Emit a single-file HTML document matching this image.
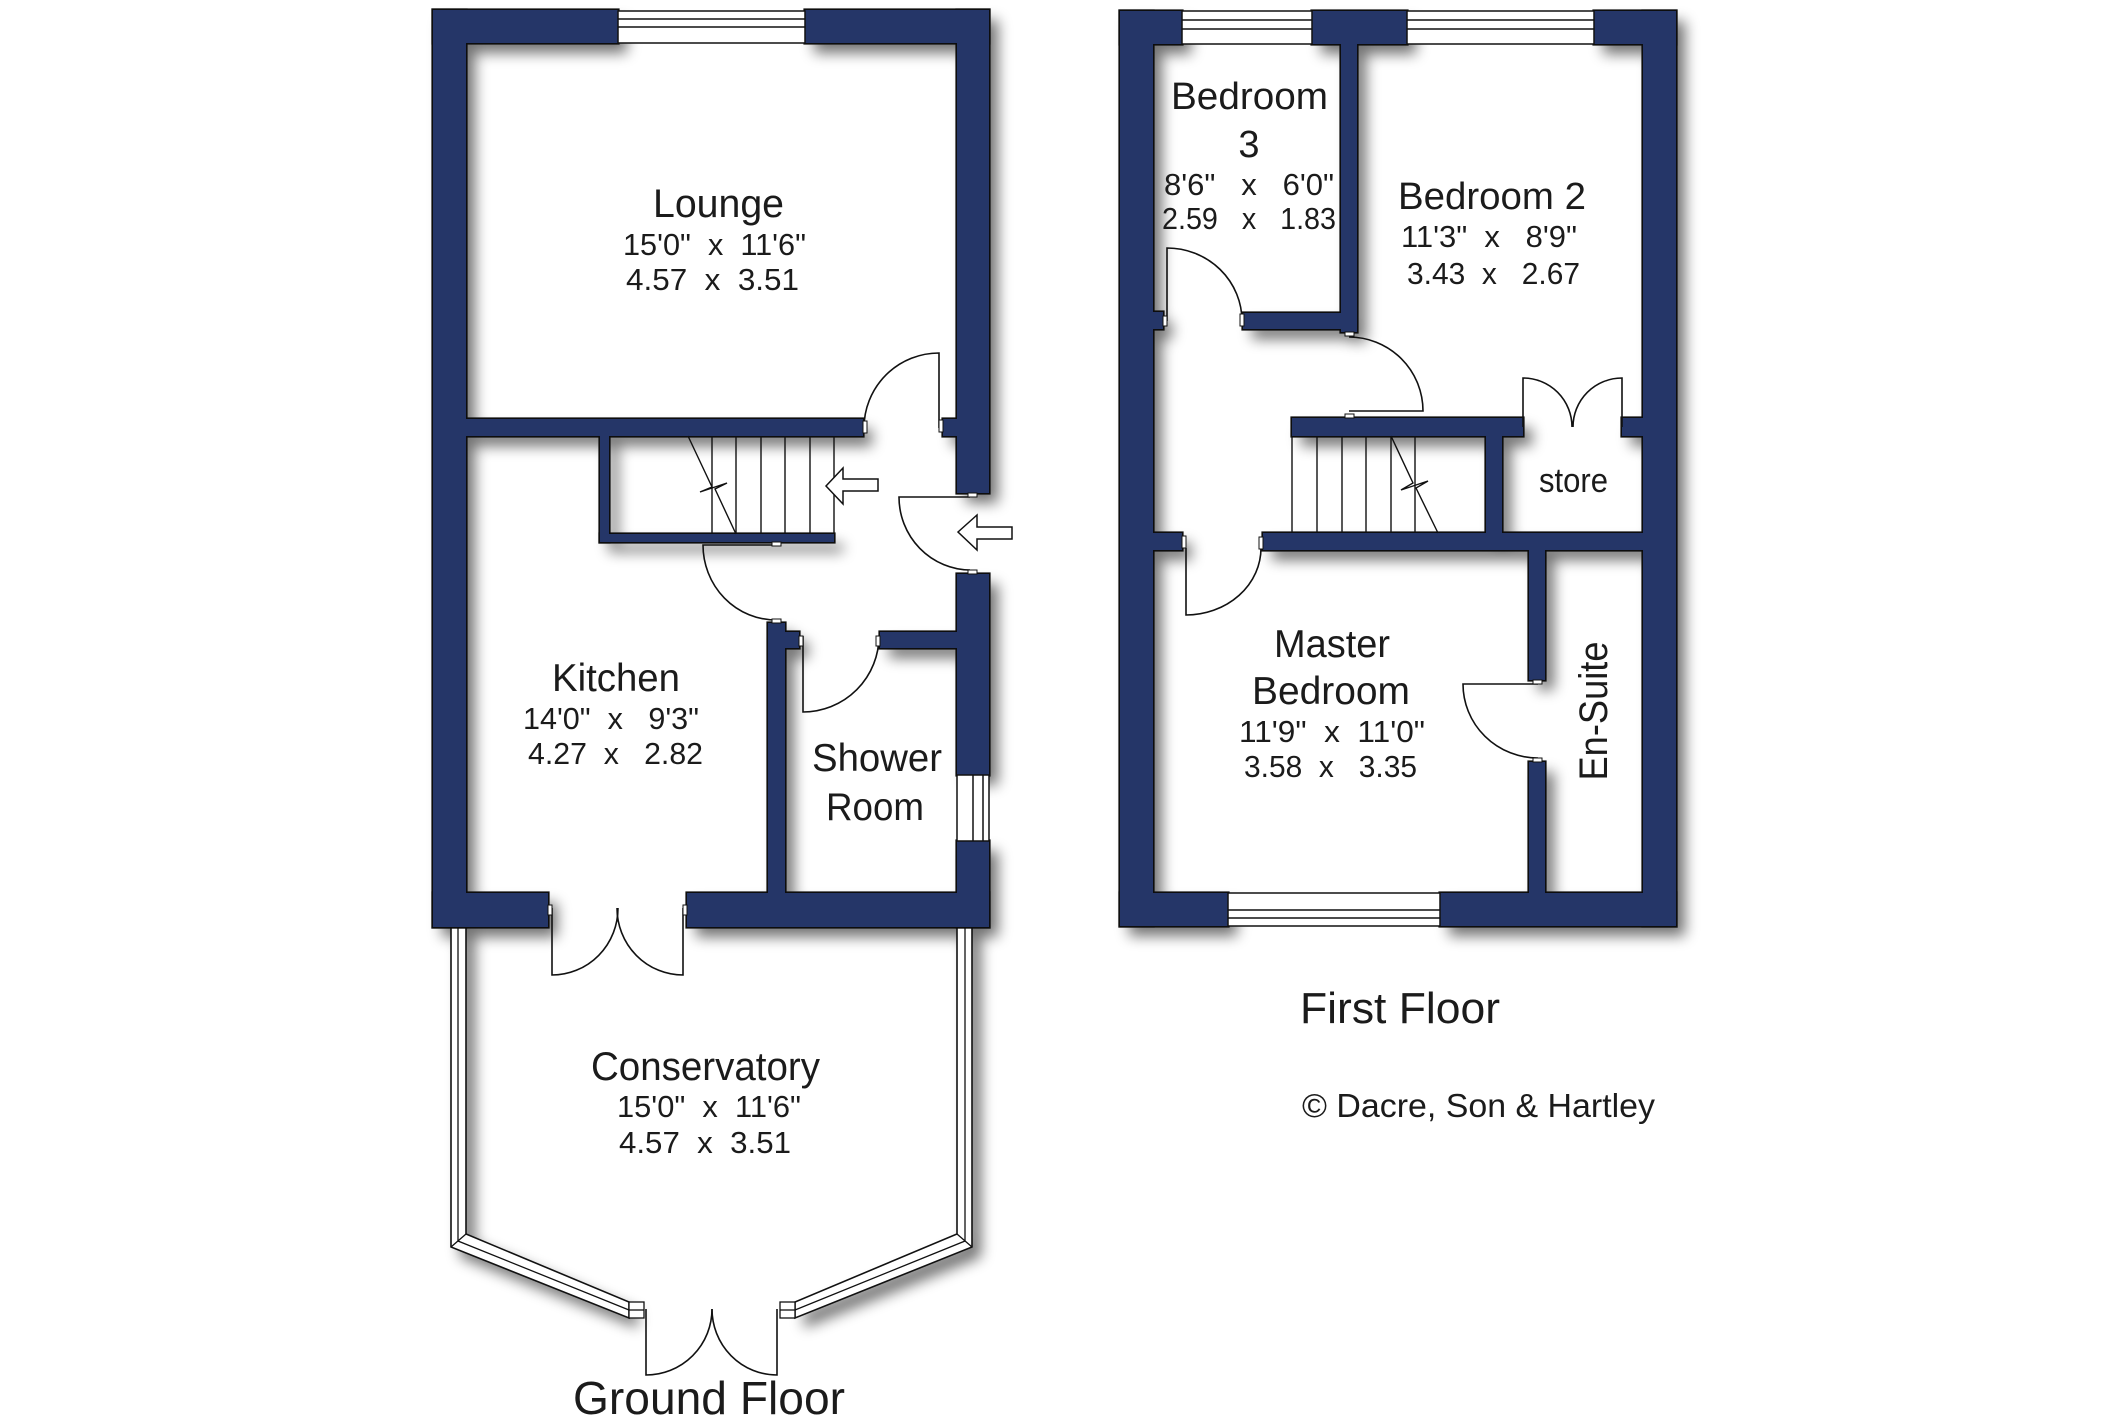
<!DOCTYPE html>
<html><head><meta charset="utf-8"><style>
html,body{margin:0;padding:0;background:#fff;}
svg{display:block;}
text{font-family:"Liberation Sans",sans-serif;fill:#1b1b1b;white-space:pre;}
</style></head><body>
<svg width="2126" height="1417" viewBox="0 0 2126 1417" xmlns="http://www.w3.org/2000/svg">
<defs>
<filter id="sh" x="-20%" y="-20%" width="140%" height="140%">
<feGaussianBlur stdDeviation="7"/>
</filter>
<g id="walls">
<rect x="433" y="10" width="185" height="33"/>
<rect x="805" y="10" width="184" height="33"/>
<rect x="433" y="10" width="33" height="917"/>
<rect x="957" y="10" width="32" height="483"/>
<rect x="957" y="574" width="32" height="201"/>
<rect x="957" y="841" width="32" height="86"/>
<rect x="466" y="419" width="397" height="17"/>
<rect x="943" y="419" width="14" height="17"/>
<rect x="600" y="436" width="9" height="106"/>
<rect x="600" y="534" width="234" height="8"/>
<rect x="768" y="623" width="17" height="270"/>
<rect x="785" y="632" width="14" height="16"/>
<rect x="880" y="632" width="77" height="16"/>
<rect x="433" y="893" width="115" height="34"/>
<rect x="687" y="893" width="302" height="34"/>
<rect x="1120" y="11" width="62" height="33"/>
<rect x="1312" y="11" width="95" height="33"/>
<rect x="1594" y="11" width="82" height="33"/>
<rect x="1120" y="11" width="33" height="915"/>
<rect x="1643" y="11" width="33" height="915"/>
<rect x="1120" y="893" width="108" height="33"/>
<rect x="1440" y="893" width="236" height="33"/>
<rect x="1341" y="44" width="16" height="288"/>
<rect x="1243" y="313" width="98" height="16"/>
<rect x="1153" y="312" width="10" height="17"/>
<rect x="1292" y="418" width="231" height="18"/>
<rect x="1622" y="418" width="21" height="18"/>
<rect x="1486" y="436" width="16" height="97"/>
<rect x="1263" y="533" width="380" height="17"/>
<rect x="1153" y="533" width="29" height="17"/>
<rect x="1529" y="550" width="16" height="130"/>
<rect x="1529" y="762" width="16" height="131"/>
</g>
<g id="cons">
<polygon points="451,927 466,927 466,1234 629,1302 629,1318 451,1247"/>
<polygon points="957,927 972,927 972,1247 795,1318 795,1302 957,1234"/>
</g>
</defs>

<!-- shadows -->
<g transform="translate(9,10)" filter="url(#sh)" fill="#000" opacity="0.55">
<use href="#walls"/>
<use href="#cons"/>
</g>

<!-- conservatory frame -->
<g fill="#fff" stroke="#111" stroke-width="1.6">
<use href="#cons"/>
</g>
<g fill="none" stroke="#111" stroke-width="1.3">
<polyline points="458,927 458,1241 629,1310"/>
<polyline points="965,927 965,1241 795,1310"/>
<line x1="451" y1="1247" x2="466" y2="1234"/>
<line x1="972" y1="1247" x2="957" y2="1234"/>
<rect x="629" y="1302" width="15" height="16" fill="#fff"/>
<line x1="629" y1="1310" x2="644" y2="1310"/>
<rect x="780" y="1302" width="15" height="16" fill="#fff"/>
<line x1="780" y1="1310" x2="795" y2="1310"/>
</g>

<!-- walls: outline pass then fill pass -->
<g fill="#253668" stroke="#0d0d0d" stroke-width="3.2"><use href="#walls"/></g>
<g fill="#253668"><use href="#walls"/></g>

<!-- windows -->
<g fill="#fff" stroke="#111" stroke-width="1.5">
<rect x="618" y="11" width="187" height="32"/>
<line x1="618" y1="19" x2="805" y2="19"/><line x1="618" y1="27" x2="805" y2="27"/>
<rect x="957" y="775" width="32" height="66"/>
<line x1="973" y1="775" x2="973" y2="841"/><line x1="983" y1="775" x2="983" y2="841"/>
<rect x="1182" y="11" width="130" height="33"/>
<line x1="1182" y1="20" x2="1312" y2="20"/><line x1="1182" y1="29" x2="1312" y2="29"/>
<rect x="1407" y="11" width="187" height="33"/>
<line x1="1407" y1="20" x2="1594" y2="20"/><line x1="1407" y1="29" x2="1594" y2="29"/>
<rect x="1228" y="893" width="212" height="33"/>
<line x1="1228" y1="910" x2="1440" y2="910"/><line x1="1228" y1="918" x2="1440" y2="918"/>
</g>

<!-- stairs -->
<g fill="none" stroke="#111" stroke-width="1.4">
<line x1="712" y1="436" x2="712" y2="534"/><line x1="736" y1="436" x2="736" y2="534"/>
<line x1="761" y1="436" x2="761" y2="534"/><line x1="785" y1="436" x2="785" y2="534"/>
<line x1="810" y1="436" x2="810" y2="534"/><line x1="834" y1="436" x2="834" y2="534"/>
<polyline points="688,436 712,487 700,492 727,483 715,489 736,534"/>
<line x1="1292" y1="436" x2="1292" y2="533"/><line x1="1317" y1="436" x2="1317" y2="533"/>
<line x1="1342" y1="436" x2="1342" y2="533"/><line x1="1366" y1="436" x2="1366" y2="533"/>
<line x1="1391" y1="436" x2="1391" y2="533"/><line x1="1415" y1="436" x2="1415" y2="533"/>
<polyline points="1391,436 1413,483 1401,490 1428,481 1416,488 1438,533"/>
</g>

<!-- arrows -->
<g fill="#fff" stroke="#111" stroke-width="1.5">
<polygon points="826,486 843,468 843,479 878,479 878,491 843,491 843,504"/>
<polygon points="958,532 977,515 977,527 1012,527 1012,539 977,539 977,550"/>
</g>

<!-- doors -->
<g fill="none" stroke="#111" stroke-width="1.6">
<path d="M939,428 L939,353 A75,75 0 0 0 864,428"/>
<path d="M970,497 L899,497 A72,73 0 0 0 970,570"/>
<path d="M776,545 L703,545 A73,75 0 0 0 776,620"/>
<path d="M803,636 L803,712 A76,76 0 0 0 879,636"/>
<path d="M552,908 L552,975 A66,67 0 0 0 618,908"/>
<path d="M683,908 L683,975 A66,67 0 0 1 617,908"/>
<path d="M646,1309 L646,1375 A66,66 0 0 0 712,1309"/>
<path d="M777,1309 L777,1375 A65,66 0 0 1 712,1309"/>
<path d="M1167,321 L1167,248 A75,73 0 0 1 1242,321"/>
<path d="M1349,411 L1423,411 A74,74 0 0 0 1349,337"/>
<path d="M1523,427 L1523,378 A49,49 0 0 1 1572,427"/>
<path d="M1622,427 L1622,378 A49,49 0 0 0 1573,427"/>
<path d="M1186,548 L1186,615 A75,67 0 0 0 1261,548"/>
<path d="M1538,684 L1463,684 A75,74 0 0 0 1538,758"/>
</g>

<!-- hinges -->
<g fill="#fff" stroke="#111" stroke-width="1">
<rect x="939" y="420" width="4" height="12"/>
<rect x="863" y="421" width="4" height="12"/>
<rect x="968" y="493" width="9" height="4"/>
<rect x="968" y="570" width="9" height="4"/>
<rect x="772" y="542" width="9" height="4"/>
<rect x="772" y="619" width="9" height="4"/>
<rect x="799" y="636" width="4" height="10"/>
<rect x="876" y="636" width="4" height="10"/>
<rect x="548" y="905" width="4" height="10"/>
<rect x="683" y="905" width="4" height="10"/>
<rect x="1163" y="316" width="4" height="10"/>
<rect x="1240" y="314" width="4" height="12"/>
<rect x="1345" y="332" width="9" height="4"/>
<rect x="1345" y="414" width="9" height="4"/>
<rect x="1182" y="536" width="4" height="12"/>
<rect x="1259" y="537" width="4" height="12"/>
<rect x="1533" y="680" width="9" height="4"/>
<rect x="1533" y="758" width="9" height="4"/>
</g>

<!-- text ground floor -->
<text x="653" y="217" font-size="40" textLength="131" lengthAdjust="spacingAndGlyphs">Lounge</text>
<text x="623" y="255" font-size="31" textLength="183" lengthAdjust="spacingAndGlyphs">15'0"  x  11'6"</text>
<text x="626" y="290" font-size="31" textLength="173" lengthAdjust="spacingAndGlyphs">4.57  x  3.51</text>
<text x="552" y="691" font-size="39" textLength="128" lengthAdjust="spacingAndGlyphs">Kitchen</text>
<text x="523" y="729" font-size="31" textLength="176" lengthAdjust="spacingAndGlyphs">14'0"  x   9'3"</text>
<text x="528" y="764" font-size="31" textLength="175" lengthAdjust="spacingAndGlyphs">4.27  x   2.82</text>
<text x="812" y="771" font-size="39" textLength="130" lengthAdjust="spacingAndGlyphs">Shower</text>
<text x="826" y="820" font-size="39" textLength="98" lengthAdjust="spacingAndGlyphs">Room</text>
<text x="591" y="1080" font-size="40" textLength="229" lengthAdjust="spacingAndGlyphs">Conservatory</text>
<text x="617" y="1117" font-size="31" textLength="184" lengthAdjust="spacingAndGlyphs">15'0"  x  11'6"</text>
<text x="619" y="1153" font-size="31" textLength="172" lengthAdjust="spacingAndGlyphs">4.57  x  3.51</text>
<text x="573" y="1414" font-size="46" textLength="272" lengthAdjust="spacingAndGlyphs">Ground Floor</text>

<!-- text first floor -->
<text x="1171" y="109" font-size="38" textLength="157" lengthAdjust="spacingAndGlyphs">Bedroom</text>
<text x="1249" y="157" font-size="38" text-anchor="middle">3</text>
<text x="1164" y="195" font-size="31" textLength="170" lengthAdjust="spacingAndGlyphs">8'6"   x   6'0"</text>
<text x="1162" y="229" font-size="31" textLength="174" lengthAdjust="spacingAndGlyphs">2.59   x   1.83</text>
<text x="1398" y="209" font-size="38" textLength="188" lengthAdjust="spacingAndGlyphs">Bedroom 2</text>
<text x="1401" y="247" font-size="31" textLength="176" lengthAdjust="spacingAndGlyphs">11'3"  x   8'9"</text>
<text x="1407" y="284" font-size="31" textLength="173" lengthAdjust="spacingAndGlyphs">3.43  x   2.67</text>
<text x="1539" y="492" font-size="34" textLength="69" lengthAdjust="spacingAndGlyphs">store</text>
<text x="1274" y="657" font-size="39" textLength="116" lengthAdjust="spacingAndGlyphs">Master</text>
<text x="1252" y="704" font-size="39" textLength="158" lengthAdjust="spacingAndGlyphs">Bedroom</text>
<text x="1239" y="742" font-size="31" textLength="186" lengthAdjust="spacingAndGlyphs">11'9"  x  11'0"</text>
<text x="1244" y="777" font-size="31" textLength="173" lengthAdjust="spacingAndGlyphs">3.58  x   3.35</text>
<text x="1607" y="711" font-size="40" text-anchor="middle" textLength="139" lengthAdjust="spacingAndGlyphs" transform="rotate(-90 1607 711)">En-Suite</text>
<text x="1300" y="1023" font-size="44" textLength="200" lengthAdjust="spacingAndGlyphs">First Floor</text>
<text x="1302" y="1117" font-size="33" textLength="353" lengthAdjust="spacingAndGlyphs">© Dacre, Son &amp; Hartley</text>
</svg>
</body></html>
